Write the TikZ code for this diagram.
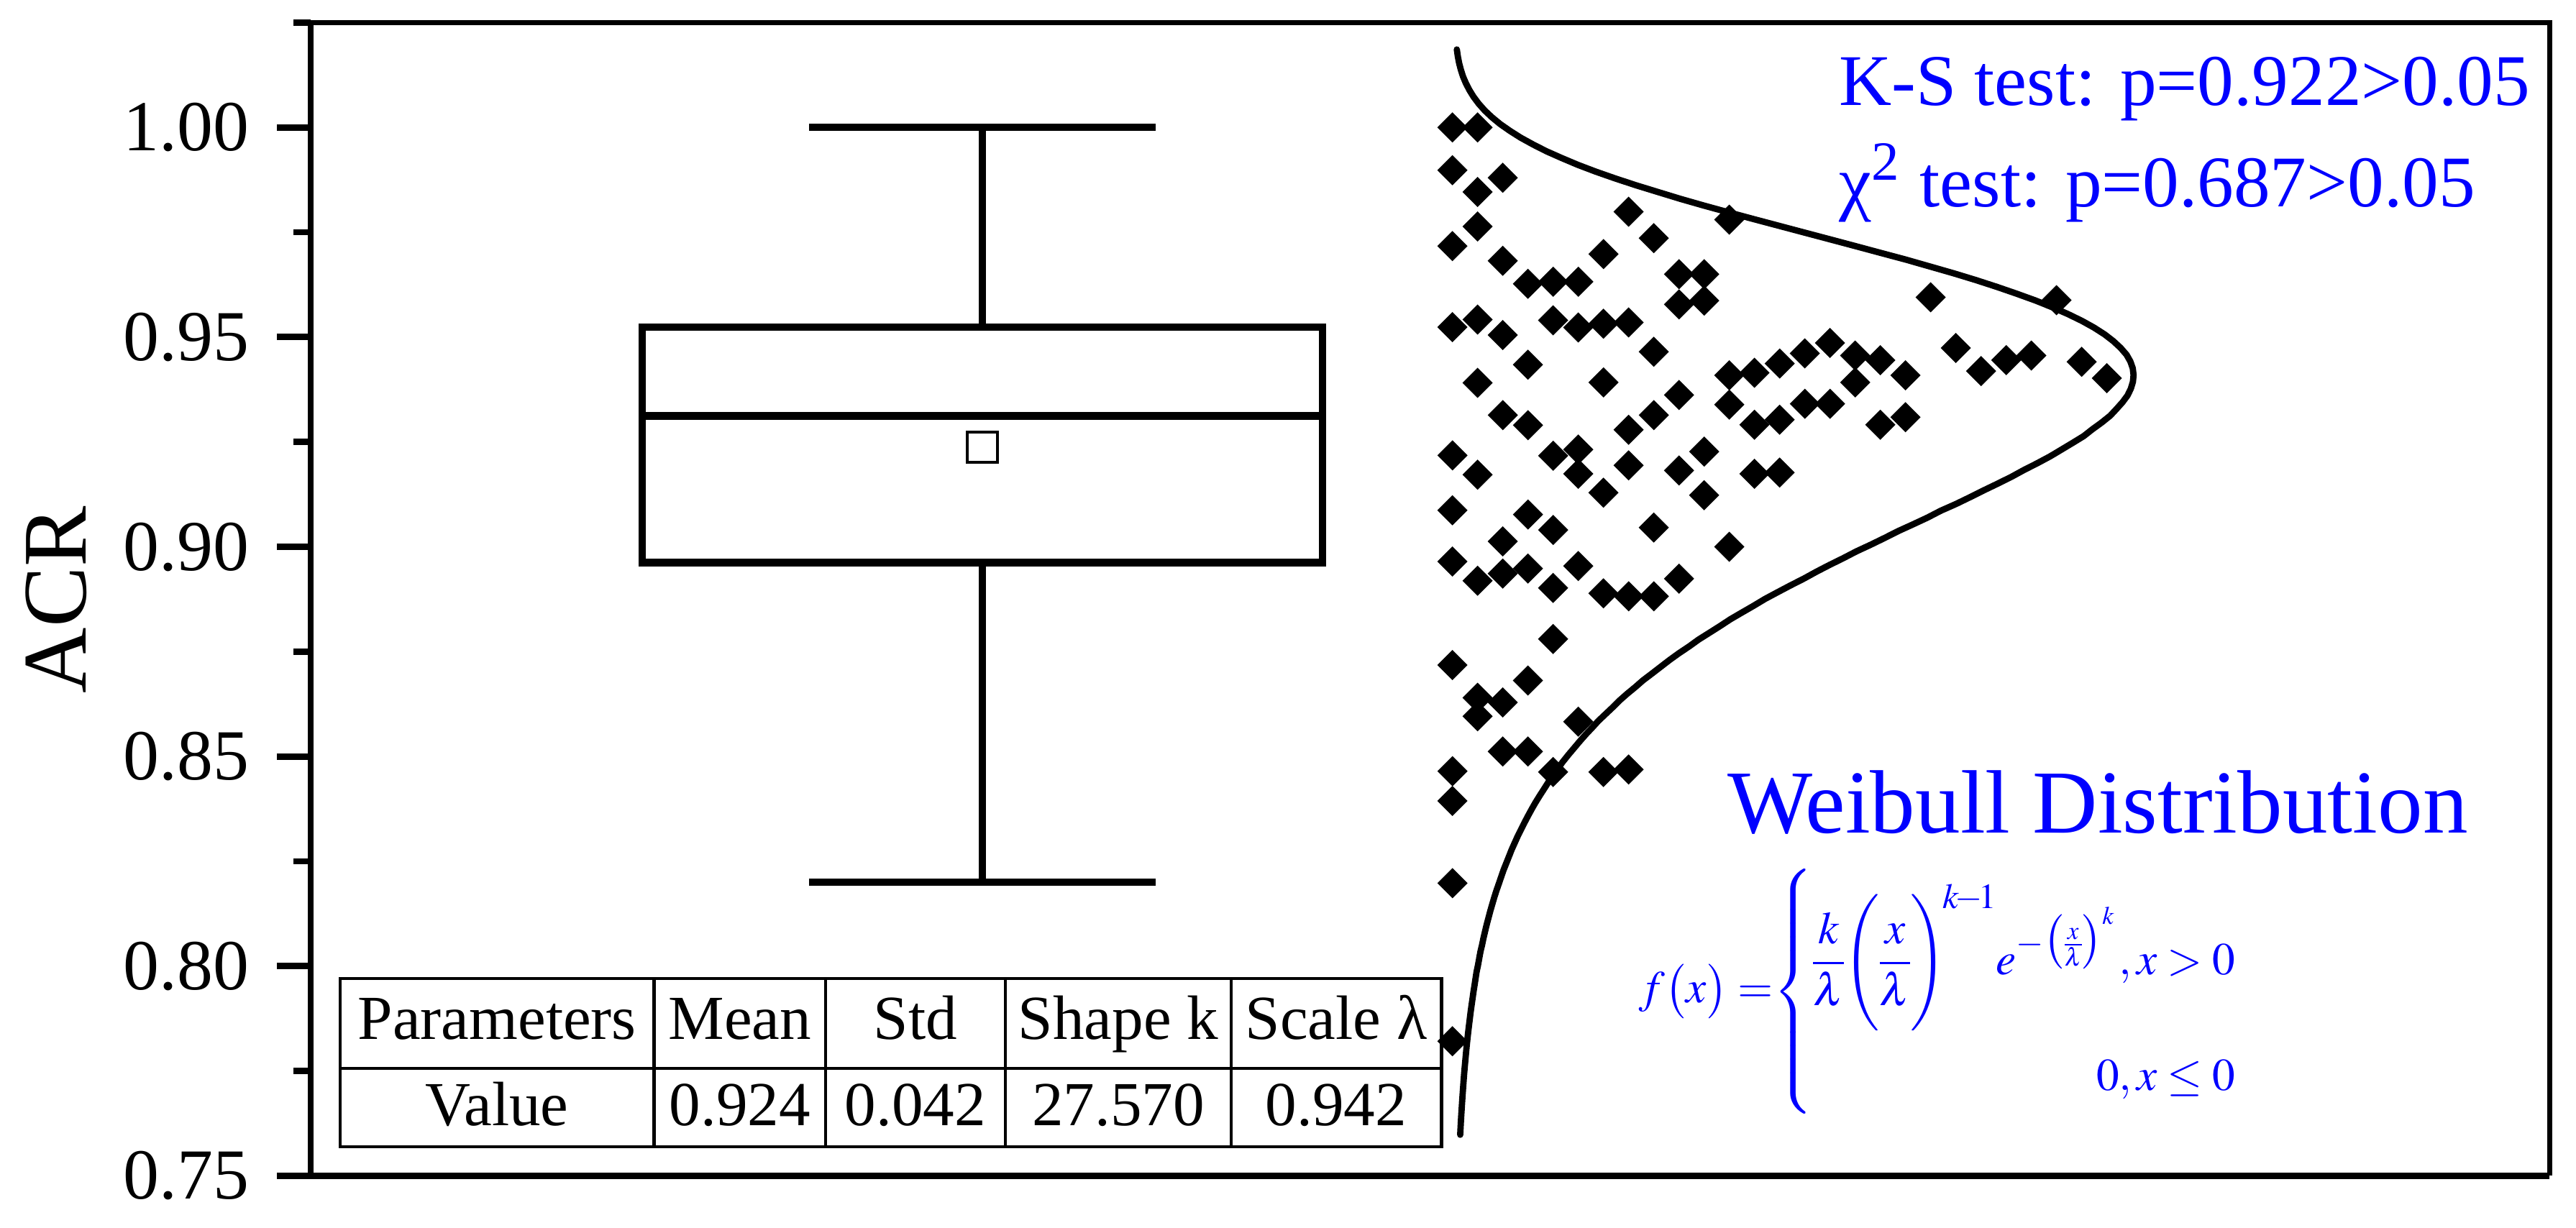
\documentclass[tikz,border=0pt]{standalone}
\usepackage{amsmath}
\usepackage{mathptmx}
\usepackage{fontspec}
\setmainfont{Liberation Serif}

\tikzset{
  axisline/.style={line width=1.25pt},
  boxline/.style={line width=1.5pt},
  ticklab/.style={anchor=east, inner sep=0pt, font=\fontsize{14.2}{17}\selectfont},
  tabtext/.style={anchor=base, inner sep=0pt, font=\fontsize{12.4}{14}\selectfont},
  tablerule/.style={line width=0.7pt},
  declare function={wbz(\t)=exp(27.57*ln(\t/0.942));
                    wbpdf(\t)=27.57/\t*wbz(\t)*exp(-wbz(\t));}
}

\begin{document}
\begin{tikzpicture}
    \useasboundingbox (0,0) rectangle (17.91,8.535);

    % Data scope: y values are ACR values
    \begin{scope}[yshift=-21.516cm, y=29.165cm]
    % Draw frame and y axis
    \draw[line width=1pt] (2.16,1.025) -- (17.725,1.025) -- (17.725,0.75);
    \draw[axisline] (2.16,1.025) -- (2.16,0.75) -- (17.725,0.75);
    \foreach \v/\lab [count=\n] in {0.75/0.75,0.80/0.80,0.85/0.85,0.90/0.90,0.95/0.95,1.00/1.00} {
        \draw[axisline] (2.16,\v) -- (1.925,\v);
        \node[ticklab] (t\n) at (1.74,\v) {\lab};
    }
    \foreach \v in {0.775,0.825,0.875,0.925,0.975,1.025} {
        \draw[axisline] (2.16,\v) -- (2.04,\v);
    }
    \node[rotate=90, font=\fontsize{18}{21}\selectfont] (acrlabel) at (0.39,0.8874) {ACR};

    % Box plot
    \draw[boxline] (4.465,0.89622) rectangle (9.195,0.95241);
    \draw[boxline] (4.465,0.93119) -- (9.195,0.93119);
    \draw[boxline] (6.83,0.95241) -- (6.83,1.00);
    \draw[boxline] (5.625,1.00) -- (8.035,1.00);
    \draw[boxline] (6.83,0.89622) -- (6.83,0.82);
    \draw[boxline] (5.625,0.82) -- (8.035,0.82);
    \node[draw, line width=0.6pt, inner sep=0pt, minimum size=0.21cm] (mean) at (6.83,0.9237) {};

    % Sample points
    \foreach \c/\v in {0/1.0000,1/1.0000,0/0.9898,2/0.9880,1/0.9846,7/0.9799,11/0.9780,
        1/0.9764,8/0.9736,0/0.9717,6/0.9698,2/0.9682,9/0.9650,10/0.9650,3/0.9627,4/0.9632,
        5/0.9632,9/0.9578,10/0.9587,1/0.9542,0/0.9524,4/0.9540,5/0.9523,6/0.9532,7/0.9535,
        2/0.9505,8/0.9465,14/0.9461,13/0.9437,12/0.9415,11/0.9409,3/0.9434,1/0.9391,6/0.9392,
        9/0.9362,14/0.9341,11/0.9339,8/0.9314,2/0.9314,3/0.9290,7/0.9279,12/0.9291,13/0.9303,
        0/0.9218,4/0.9217,5/0.9232,10/0.9227,7/0.9194,1/0.9172,5/0.9174,9/0.9182,12/0.9174,
        13/0.9177,6/0.9129,10/0.9123,0/0.9087,3/0.9077,4/0.9040,8/0.9046,2/0.9013,11/0.9000,
        0/0.8965,3/0.8948,2/0.8936,1/0.8919,5/0.8954,4/0.8902,9/0.8924,6/0.8889,7/0.8882,
        8/0.8882,4/0.8780,0/0.8718,3/0.8681,1/0.8640,2/0.8629,1/0.8596,5/0.8583,2/0.8512,
        3/0.8512,4/0.8463,6/0.8463,7/0.8469,0/0.8465,0/0.8394,0/0.8198,0/0.7821,
        19/0.9595,24/0.9588,15/0.9486,16/0.9456,17/0.9445,18/0.9409,16/0.9392,20/0.9474,
        21/0.9419,22/0.9445,23/0.9456,25/0.9441,26/0.9402,15/0.9341,17/0.9291,18/0.9309} {
        \fill ({10.098+0.175*\c},\v) +(-0.105cm,0) -- +(0,0.105cm) -- +(0.105cm,0) -- +(0,-0.105cm) -- cycle;
    }

    % Weibull curve
    \draw[line width=1.25pt, line cap=round] plot[domain=0.7598:1.0186, samples=160, variable=\t]
        ({10.11+0.4385*wbpdf(\t)}, {\t});
    \end{scope}

    % Parameter table
    \draw[tablerule] (2.365,0.56) rectangle (10.02,1.73);
    \draw[tablerule] (2.365,1.105) -- (10.02,1.105);
    \foreach \x in {4.5475,5.74,6.99,8.56} {
        \draw[tablerule] (\x,0.56) -- (\x,1.73);
    }
    \foreach \x/\head/\val [count=\n] in {3.456/Parameters/Value,5.144/Mean/0.924,
        6.365/Std/0.042,7.775/Shape k/27.570,9.29/Scale λ/0.942} {
        \node[tabtext] (h\n) at (\x,1.308) {\head};
        \node[tabtext] (v\n) at (\x,0.707) {\val};
    }

    % Test results
    \node[blue, anchor=base west, inner sep=0pt, font=\fontsize{14.4}{17}\selectfont] (kstest) at (12.78,7.805) {K-S test: p=0.922>0.05};
    \node[blue, anchor=base west, inner sep=0pt, font=\fontsize{14.4}{17}\selectfont] (chitest) at (12.78,7.1) {χ\textsuperscript{2} test: p=0.687>0.05};

    % Distribution name and pdf
    \node[blue, anchor=base west, inner sep=0pt, font=\fontsize{17.8}{21}\selectfont] (wbtitle) at (12.005,2.745) {Weibull Distribution};
    \node[blue, anchor=west, inner sep=0pt, font=\fontsize{9}{11}\selectfont] (wbformula) at (11.39,1.64)
        {\nulldelimiterspace=0pt \scriptspace=0pt
        $f\bigl(x\bigr)=\!\!\left\{\begin{array}{@{}r@{}}
          \rule{0pt}{21.5pt}\dfrac{k}{\lambda}\Biggl(\dfrac{x}{\lambda}\Biggr)^{\!k\mkern-2mu-\mkern-2mu1}e^{-\bigl(\frac{x}{\lambda}\bigr)^{k}}\,,x>0\\[12pt]
          0,x\leq 0\rule[-5.3pt]{0pt}{5.3pt}
        \end{array}\right.$};
\end{tikzpicture}
\end{document}
